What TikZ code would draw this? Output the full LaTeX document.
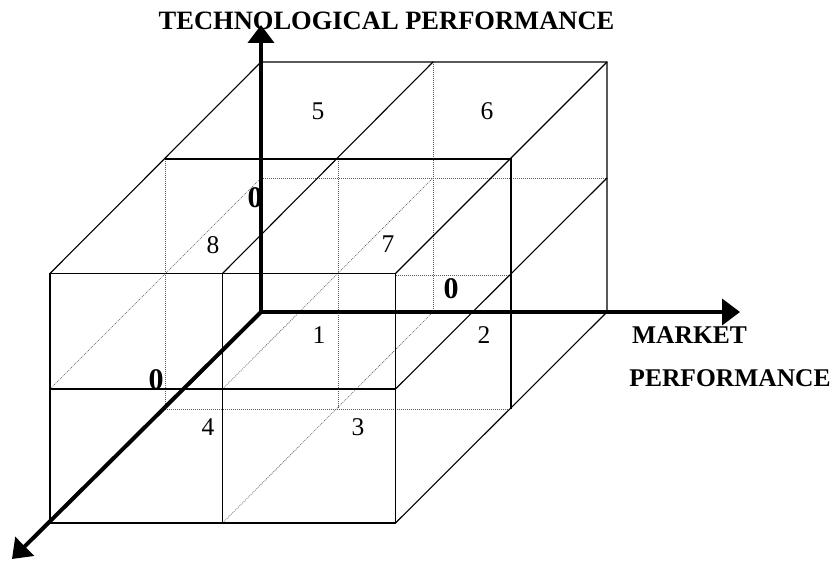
\documentclass[tikz,border=0pt]{standalone}
\usepackage{fontspec}
\setmainfont{Liberation Serif}
\usetikzlibrary{arrows.meta}
\begin{document}
\begin{tikzpicture}[x=1pt,y=-1pt,
  edge/.style={line width=1.1pt,black},
  midedge/.style={line width=1.6pt,black},
  hidden/.style={line width=0.6pt,black!65,dash pattern=on 1pt off 1pt},
  axis/.style={line width=4pt,black,-{Triangle[length=18pt,width=26pt]}},
  num/.style={inner sep=0pt,font=\fontsize{25.5}{30}\selectfont},
  zero/.style={inner sep=0pt,font=\fontsize{30}{34}\selectfont\bfseries},
  axlabel/.style={inner sep=0pt,anchor=base,font=\fontsize{25.5}{30}\selectfont\bfseries}]
\path[use as bounding box] (0,0) rectangle (834,561);
% front plane
\coordinate (FLT) at (50,273.5);  \coordinate (FCT) at (222.5,273.5); \coordinate (FRT) at (395.5,273.5);
\coordinate (FLM) at (50,389);    \coordinate (FCM) at (222.5,389);   \coordinate (FRM) at (395.5,389);
\coordinate (FLB) at (50,523);    \coordinate (FCB) at (222.5,523);   \coordinate (FRB) at (395.5,523);
\coordinate (FRX) at (395.5,275);
% middle plane
\coordinate (MLT) at (165,159); \coordinate (MCT) at (338,159); \coordinate (MRT) at (511,159);
\coordinate (MRM) at (511,275);
\coordinate (MLB) at (165,409); \coordinate (MCB) at (338,409); \coordinate (MRB) at (511,409);
% back plane
\coordinate (BLT) at (261,62);  \coordinate (BCT) at (433,62);  \coordinate (BRT) at (607,62);
\coordinate (BLM) at (261,178); \coordinate (BCM) at (433,178); \coordinate (BRM) at (607,178);
\coordinate (O)   at (261,312); \coordinate (BCB) at (433,312); \coordinate (BRB) at (607,312);
% axis tips
\coordinate (VT) at (261,25); \coordinate (HT) at (740,312); \coordinate (DT) at (12,559);

% hidden lines
\draw[hidden] (BLM) -- (BRM);
\draw[hidden] (BCT) -- (BCB);
\draw[hidden] (MLT) -- (MLB) -- (MRB);
\draw[hidden] (MCT) -- (MCB);
\draw[hidden] (FRX) -- (MRM);
\draw[hidden] (FLM) -- (BLM);
\draw[hidden] (FCM) -- (BCM);
\draw[hidden] (FCB) -- (BCB);

% visible edges
\draw[edge] (FLT) rectangle (FRB);
\draw[edge] (FCT) -- (FCB);
\draw[midedge] (FLM) -- (FRM);
\draw[edge] (FLT) -- (BLT) -- (BRT) -- (BRB);
\draw[edge] (FCT) -- (BCT);
\draw[edge] (FRT) -- (BRT);
\draw[edge] (MLT) -- (MRT) -- (MRB);
\draw[edge] (FRM) -- (BRM);
\draw[edge] (FRB) -- (BRB);

% labels
\node[num] (n5) at (318,111) {5};
\node[num] (n6) at (487,111) {6};
\node[num] (n8) at (213,245) {8};
\node[num] (n7) at (388,244) {7};
\node[num] (n1) at (319,335) {1};
\node[num] (n2) at (484,335) {2};
\node[num] (n4) at (208,427) {4};
\node[num] (n3) at (358,427) {3};
\node[zero] (z1) at (255,198) {0};
\node[zero] (z2) at (451,289) {0};
\node[zero] (z3) at (156,380) {0};
\node[axlabel,font=\fontsize{26.5}{30}\selectfont\bfseries] (tp) at (386.5,29.5) {TECHNOLOGICAL PERFORMANCE};
\node[axlabel] (mk) at (689.5,343) {MARKET};
\node[axlabel] (pf) at (730,386) {PERFORMANCE};

% axes
\draw[axis,{Triangle[length=18pt,width=26pt]}-{Triangle[length=18pt,width=26pt]}] (VT) -- (O) -- (HT);
\draw[axis] (O) -- (DT);
\end{tikzpicture}
\end{document}
